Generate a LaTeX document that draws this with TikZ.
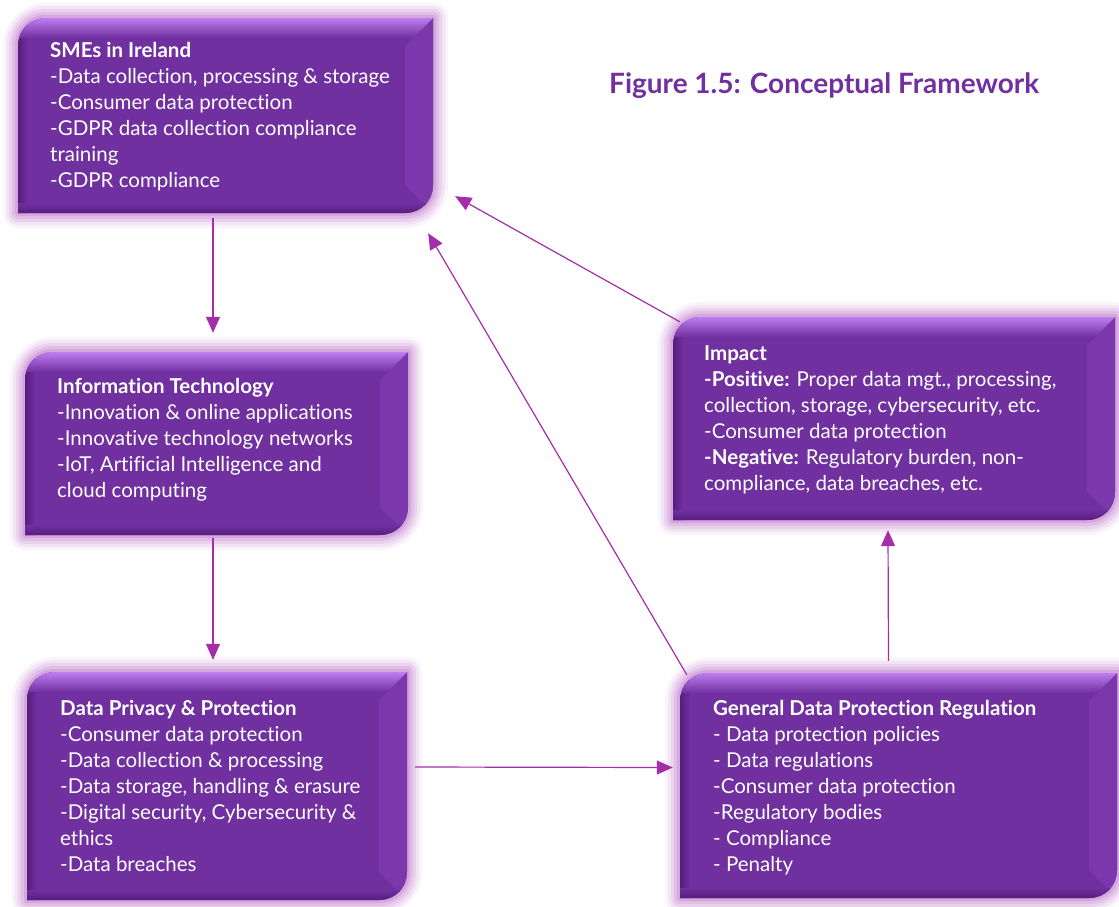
\documentclass[tikz,border=0pt]{standalone}
\usepackage{fontspec}
\setmainfont[Ligatures=NoCommon]{Lato}
\usetikzlibrary{arrows.meta}
\definecolor{face}{RGB}{112,48,160}
\definecolor{facelight}{RGB}{190,125,240}
\definecolor{faceright}{RGB}{122,56,172}
\definecolor{facedark}{RGB}{86,30,126}
\definecolor{glowc}{RGB}{180,100,195}
\definecolor{arrc}{RGB}{165,45,170}
\definecolor{titlec}{RGB}{112,48,160}
\tikzset{
  btxt/.style={anchor=north west, inner sep=0pt, align=left, text=white, font=\fontsize{20.5}{26}\selectfont},
  arr/.style={draw=arrc, line width=1.2pt, -{Triangle[length=16pt,width=14pt]}},
  boxnode/.style={inner sep=0pt, draw=none}
}
\newcommand{\pbox}[5]{%
 \def\bpath{(#2,#5) -- (#2,#3+28) .. controls (#2,#3+12) and (#2+12,#3) .. (#2+28,#3) -- (#4,#3) -- (#4,#5-28) .. controls (#4,#5-12) and (#4-12,#5) .. (#4-28,#5) -- cycle}%
 \foreach \w/\o in {30/0.08,24/0.1,18/0.14,12/0.18,6/0.25}{\draw[glowc,line width=\w pt,opacity=\o,line join=round] \bpath;}
 \fill[face] \bpath;
 \begin{scope}
  \clip \bpath;
  \fill[faceright] (#4,#3) -- (#4-28,#3+28) -- (#4-28,#5-28) -- (#4,#5) -- cycle;
  \shade[left color=facedark, right color=face] (#2,#3) rectangle (#2+10,#5);
  \shade[bottom color=facedark, top color=face] (#2,#5-10) rectangle (#4,#5);
  \shade[top color=facelight, bottom color=face] (#2,#3) -- (#4,#3) -- (#4-20,#3+20) -- (#2,#3+20) -- cycle;
 \end{scope}
 \node[boxnode, minimum width={(#4-#2)*1pt}, minimum height={(#5-#3)*1pt}] (#1) at ({(#2+#4)/2},{(#3+#5)/2}) {};
}
\begin{document}
\begin{tikzpicture}[x=1pt,y=-1pt]
\useasboundingbox (0,0) rectangle (1119,906);

\pbox{sme}{18}{18}{433}{213}
\pbox{it}{25}{352}{408}{535}
\pbox{dpp}{27}{672}{407}{900}
\pbox{gdpr}{680}{673}{1117}{898}
\pbox{impact}{673}{317}{1115}{520}

\node[font=\bfseries\fontsize{28}{32}\selectfont, text=titlec, anchor=west, inner sep=0pt] (title) at (609,86) {Figure 1.5: Conceptual Framework};

\node[btxt] (smetxt) at (50,42) {\textbf{SMEs in Ireland}\\
-Data collection, processing \& storage\\
-Consumer data protection\\
-GDPR data collection compliance\\
training\\
-GDPR compliance};

\node[btxt] (ittxt) at (57,378) {\textbf{Information Technology}\\
-Innovation \& online applications\\
-Innovative technology networks\\
-IoT, Artificial Intelligence and\\
cloud computing};

\node[btxt] (dpptxt) at (60,700) {\textbf{Data Privacy \& Protection}\\
-Consumer data protection\\
-Data collection \& processing\\
-Data storage, handling \& erasure\\
-Digital security, Cybersecurity \&\\
ethics\\
-Data breaches};

\node[btxt] (gdprtxt) at (713,700) {\textbf{General Data Protection Regulation}\\
- Data protection policies\\
- Data regulations\\
-Consumer data protection\\
-Regulatory bodies\\
- Compliance\\
- Penalty};

\node[btxt] (impacttxt) at (704,345) {\textbf{Impact}\\
\textbf{-Positive:} Proper data mgt., processing,\\
collection, storage, cybersecurity, etc.\\
-Consumer data protection\\
\textbf{-Negative:} Regulatory burden, non-\\
compliance, data breaches, etc.};

\draw[arr] ([xshift=-12.5pt,yshift=-5pt]sme.south) -- ([xshift=-3.5pt,yshift=19pt]it.north);
\draw[arr] ([xshift=-3.5pt,yshift=-3pt]it.south) -- ([xshift=-4pt,yshift=12pt]dpp.north);
\draw[arr] ([xshift=8pt,yshift=19pt]dpp.east) -- ([xshift=-7pt,yshift=18pt]gdpr.west);
\draw[arr] ([xshift=-10pt,yshift=12pt]gdpr.north) -- ([xshift=-6pt,yshift=-10pt]impact.south);
\draw[arr] ([xshift=7pt,yshift=-2pt]gdpr.north west) -- ([xshift=-5pt,yshift=-20pt]sme.south east);
\draw[arr] ([xshift=7pt,yshift=-5pt]impact.north west) -- ([xshift=22pt,yshift=17pt]sme.south east);
\end{tikzpicture}
\end{document}
